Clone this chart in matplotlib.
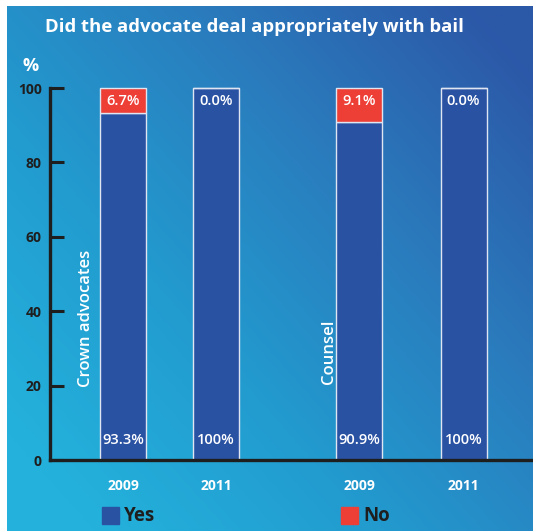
import numpy as np
import matplotlib.pyplot as plt
from matplotlib.colors import LinearSegmentedColormap

# Survey results: share of cases handled appropriately with bail
groups = ["Crown advocates", "Counsel"]
years = ["2009", "2011", "2009", "2011"]
yes_pct = [93.3, 100, 90.9, 100]
no_pct = [6.7, 0.0, 9.1, 0.0]

YES_COL = "#2a52a3"
NO_COL = "#ee3f37"
INK = "#1e1e1e"

plt.rcParams["font.family"] = ["Open Sans", "DejaVu Sans"]

W, H = 533, 531
fig = plt.figure(figsize=(W / 100, H / 100), dpi=100)

# Diagonal blue gradient panel behind everything
bg = fig.add_axes([7 / W, 0, 1 - 7 / W, 1 - 6 / H])
gx, gy = np.meshgrid(np.linspace(0, 1, 300), np.linspace(0, 1, 300))
t = np.clip(0.62 * gx + 0.55 * gy - 0.1, 0, 1)
cmap = LinearSegmentedColormap.from_list(
    "panel", ["#24b2dc", "#229bcf", "#2a7cbd", "#2c58a8"])
bg.imshow(t, cmap=cmap, origin="lower", aspect="auto", extent=[0, 1, 0, 1])
bg.set_axis_off()

# Main plotting area
ax = fig.add_axes([50 / W, 1 - 460 / H, 1 - 50 / W, (460 - 88) / H])
ax.patch.set_alpha(0)
xpos = [73, 166, 309, 413.5]
width = 46

ax.bar(xpos, yes_pct, width=width, color=YES_COL, edgecolor="#dfe6f2",
       linewidth=1, clip_on=False, zorder=3)
ax.bar(xpos, no_pct, width=width, bottom=yes_pct, color=NO_COL,
       edgecolor="#dfe6f2", linewidth=1, clip_on=False, zorder=3)

for x, y, n in zip(xpos, yes_pct, no_pct):
    ylab = f"{y:g}%" if y == 100 else f"{y:.1f}%"
    ax.text(x, 5.3, ylab, ha="center", va="center", color="white",
            fontsize=10.5, fontweight="semibold", zorder=4)
    ax.text(x, 96.4, f"{n:.1f}%", ha="center", va="center", color="white",
            fontsize=10.5, fontweight="semibold", zorder=4)

# Group names written sideways next to the first bar of each pair
ax.text(36, 19.6, groups[0], rotation=90, ha="center", va="bottom",
        color="white", fontsize=12, fontweight="semibold")
ax.text(279, 20.3, groups[1], rotation=90, ha="center", va="bottom",
        color="white", fontsize=12, fontweight="semibold")

ax.set_xlim(0, 483)
ax.set_ylim(0, 100)
ax.set_yticks(range(0, 101, 20))
ax.set_xticks([])
ax.tick_params(axis="y", direction="in", length=10, width=2.2, color=INK,
               pad=6, labelsize=10, labelcolor=INK)
for lab in ax.get_yticklabels():
    lab.set_fontweight("bold")
for s in ["top", "right"]:
    ax.spines[s].set_visible(False)
for s in ["left", "bottom"]:
    ax.spines[s].set_color(INK)
    ax.spines[s].set_linewidth(2.4)
    ax.spines[s].set_zorder(5)

for x, yr in zip(xpos, years):
    ax.text(x, -7, yr, transform=ax.transData, ha="center", va="center",
            color="white", fontsize=10, fontweight="bold", clip_on=False)

ax.text(-19, 106, "%", ha="center", va="center", color="white",
        fontsize=13, fontweight="bold", clip_on=False)

fig.text(45 / W, 1 - 27 / H, "Did the advocate deal appropriately with bail",
         ha="left", va="center", color="white", fontsize=13.3,
         fontweight="bold")

# Legend squares
fig.patches.append(plt.Rectangle((102 / W, 1 - 524 / H), 17 / W, 17 / H,
                                 color=YES_COL, transform=fig.transFigure))
fig.text(124 / W, 1 - 516 / H, "Yes", ha="left", va="center", color=INK,
         fontsize=13.5, fontweight="bold")
fig.patches.append(plt.Rectangle((341 / W, 1 - 524 / H), 17 / W, 17 / H,
                                 color=NO_COL, transform=fig.transFigure))
fig.text(363 / W, 1 - 516 / H, "No", ha="left", va="center", color=INK,
         fontsize=13.5, fontweight="bold")

fig.savefig("out.png", dpi=100)
